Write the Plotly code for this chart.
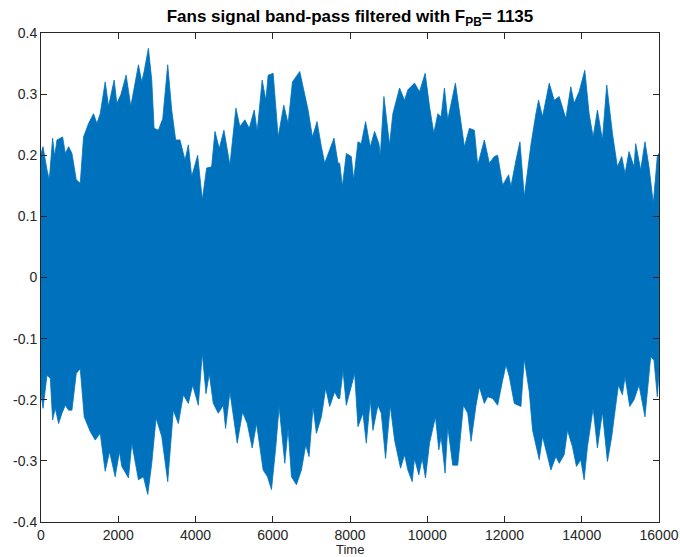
import plotly.graph_objects as go

# Upper envelope of the band-pass filtered signal (time sample, amplitude)
upper_time = [0, 52, 155, 215, 301, 353, 413, 560, 629, 715, 801, 913, 1016, 1102, 1231, 1361,
              1447, 1533, 1662, 1748, 1894, 1963, 2067, 2204, 2325, 2523, 2609, 2669, 2781, 2867,
              2928, 3040, 3152, 3281, 3384, 3487, 3599, 3729, 3815, 3901, 4056, 4176, 4288, 4417,
              4504, 4615, 4736, 4891, 5046, 5149, 5279, 5391, 5520, 5597, 5726, 5821, 5881, 6010,
              6140, 6286, 6398, 6510, 6699, 6803, 6915, 7027, 7147, 7259, 7345, 7474, 7586, 7690,
              7733, 7802, 7905, 8034, 8094, 8206, 8292, 8404, 8525, 8637, 8749, 8783, 8878, 9024,
              9110, 9283, 9412, 9498, 9670, 9799, 9946, 10058, 10170, 10273, 10359, 10445, 10531,
              10729, 10833, 10962, 11091, 11220, 11306, 11392, 11478, 11608, 11737, 11823, 11952,
              12107, 12167, 12297, 12400, 12512, 12684, 12813, 12882, 12985, 13158, 13287, 13416,
              13588, 13717, 13803, 13932, 14079, 14191, 14294, 14406, 14535, 14647, 14794, 14923,
              15035, 15121, 15224, 15354, 15397, 15526, 15637, 15741, 15853, 15956, 16000]
upper_value = [0.203, 0.214, 0.176, 0.160, 0.228, 0.198, 0.225, 0.230, 0.203, 0.214, 0.203, 0.160,
               0.154, 0.230, 0.252, 0.268, 0.252, 0.268, 0.320, 0.280, 0.323, 0.285, 0.299, 0.331,
               0.280, 0.348, 0.320, 0.337, 0.375, 0.323, 0.244, 0.241, 0.260, 0.348, 0.274, 0.225,
               0.225, 0.192, 0.217, 0.165, 0.200, 0.127, 0.179, 0.181, 0.239, 0.211, 0.241, 0.184,
               0.277, 0.247, 0.258, 0.244, 0.274, 0.239, 0.323, 0.290, 0.331, 0.334, 0.230, 0.282,
               0.252, 0.320, 0.337, 0.304, 0.274, 0.230, 0.255, 0.214, 0.187, 0.209, 0.228, 0.187,
               0.187, 0.149, 0.203, 0.198, 0.160, 0.222, 0.219, 0.255, 0.214, 0.239, 0.219, 0.198,
               0.296, 0.217, 0.268, 0.310, 0.290, 0.307, 0.318, 0.304, 0.334, 0.280, 0.236, 0.268,
               0.263, 0.310, 0.258, 0.318, 0.274, 0.214, 0.244, 0.241, 0.184, 0.206, 0.225, 0.187,
               0.198, 0.200, 0.151, 0.168, 0.149, 0.192, 0.222, 0.132, 0.217, 0.268, 0.290, 0.263,
               0.318, 0.290, 0.296, 0.260, 0.312, 0.285, 0.304, 0.339, 0.268, 0.230, 0.274, 0.225,
               0.315, 0.236, 0.181, 0.198, 0.170, 0.206, 0.181, 0.219, 0.176, 0.222, 0.181, 0.121,
               0.198, 0.203]

# Lower envelope of the band-pass filtered signal (time sample, amplitude)
lower_time = [0, 52, 155, 241, 301, 370, 456, 543, 629, 715, 801, 913, 1016, 1119, 1274, 1404,
              1533, 1662, 1774, 1920, 2032, 2092, 2265, 2351, 2523, 2652, 2764, 2867, 2979, 3126,
              3281, 3427, 3556, 3686, 3815, 3927, 4073, 4176, 4271, 4357, 4460, 4590, 4719, 4779,
              4891, 5080, 5218, 5339, 5468, 5580, 5752, 5864, 5967, 6079, 6165, 6312, 6398, 6484,
              6613, 6742, 6854, 6940, 7044, 7130, 7259, 7371, 7474, 7604, 7690, 7733, 7819, 7905,
              8034, 8120, 8206, 8335, 8422, 8525, 8594, 8723, 8809, 8921, 9042, 9154, 9309, 9412,
              9498, 9610, 9670, 9782, 9868, 9954, 10058, 10213, 10299, 10359, 10462, 10531, 10660,
              10790, 10936, 11048, 11134, 11263, 11349, 11478, 11565, 11694, 11823, 11952, 12038,
              12124, 12254, 12426, 12512, 12641, 12727, 12899, 12985, 13115, 13201, 13330, 13416,
              13545, 13631, 13760, 13863, 13975, 14061, 14147, 14294, 14406, 14535, 14665, 14777,
              14837, 14949, 15052, 15121, 15242, 15354, 15483, 15637, 15784, 15870, 15956, 16000]
lower_value = [-0.190, -0.214, -0.160, -0.165, -0.233, -0.214, -0.239, -0.222, -0.209, -0.217,
               -0.217, -0.157, -0.149, -0.228, -0.252, -0.266, -0.255, -0.317, -0.285, -0.326,
               -0.285, -0.309, -0.328, -0.271, -0.331, -0.326, -0.355, -0.304, -0.230, -0.260,
               -0.334, -0.217, -0.239, -0.192, -0.206, -0.176, -0.209, -0.124, -0.190, -0.157,
               -0.206, -0.222, -0.209, -0.247, -0.187, -0.271, -0.220, -0.239, -0.279, -0.239,
               -0.315, -0.326, -0.347, -0.277, -0.211, -0.304, -0.247, -0.326, -0.339, -0.315,
               -0.274, -0.293, -0.211, -0.255, -0.228, -0.181, -0.211, -0.187, -0.198, -0.198,
               -0.152, -0.209, -0.179, -0.157, -0.244, -0.222, -0.271, -0.200, -0.250, -0.209,
               -0.222, -0.296, -0.209, -0.266, -0.312, -0.290, -0.315, -0.334, -0.296, -0.323,
               -0.296, -0.328, -0.271, -0.228, -0.282, -0.260, -0.320, -0.244, -0.307, -0.307,
               -0.209, -0.222, -0.268, -0.209, -0.179, -0.206, -0.195, -0.198, -0.209, -0.168,
               -0.143, -0.162, -0.206, -0.211, -0.133, -0.187, -0.250, -0.298, -0.260, -0.293,
               -0.315, -0.293, -0.304, -0.290, -0.250, -0.277, -0.309, -0.298, -0.331, -0.277,
               -0.214, -0.279, -0.220, -0.301, -0.260, -0.230, -0.176, -0.192, -0.162, -0.211,
               -0.200, -0.176, -0.228, -0.130, -0.135, -0.195, -0.157]

x_ticks = [0, 2000, 4000, 6000, 8000, 10000, 12000, 14000, 16000]
x_tick_labels = ["0", "2000", "4000", "6000", "8000", "10000", "12000", "14000", "16000"]
y_ticks = [-0.4, -0.3, -0.2, -0.1, 0, 0.1, 0.2, 0.3, 0.4]
y_tick_labels = ["-0.4", "-0.3", "-0.2", "-0.1", "0", "0.1", "0.2", "0.3", "0.4"]

SIGNAL_BLUE = "#0072BD"
AXIS_GREY = "#262626"
FONT = "Liberation Sans, Arial, Helvetica, sans-serif"

# Closed outline: upper envelope forward, lower envelope backward
band_x = upper_time + lower_time[::-1]
band_y = upper_value + lower_value[::-1]

fig = go.Figure()
fig.add_trace(go.Scatter(
    x=band_x, y=band_y, mode="lines", fill="toself",
    fillcolor=SIGNAL_BLUE, line=dict(color=SIGNAL_BLUE, width=0.8),
    hoverinfo="skip", showlegend=False,
))

axis_common = dict(
    showgrid=False, zeroline=False, showline=True, linecolor=AXIS_GREY, linewidth=1,
    mirror="ticks", ticks="inside", ticklen=6, tickcolor=AXIS_GREY, tickwidth=1,
    tickfont=dict(family=FONT, size=14, color=AXIS_GREY), automargin=False,
)

fig.update_layout(
    width=680, height=557,
    margin=dict(l=41, r=21, t=33, b=35),
    paper_bgcolor="white", plot_bgcolor="white",
    title=dict(
        text="<b>Fans signal band-pass filtered with F<sub>PB</sub>= 1135</b>",
        font=dict(family=FONT, size=17, color="black"),
        x=0.5, xref="paper", xanchor="center",
        y=1 - 16 / 557, yref="container", yanchor="middle",
    ),
    xaxis=dict(range=[0, 16000], tickvals=x_ticks, ticktext=x_tick_labels, **axis_common),
    yaxis=dict(range=[-0.4, 0.4], tickvals=y_ticks, ticktext=y_tick_labels, **axis_common),
    annotations=[dict(
        text="Time", xref="paper", yref="paper", x=0.5, y=0,
        xanchor="center", yanchor="top", yshift=-19, showarrow=False, borderpad=0,
        font=dict(family=FONT, size=13, color=AXIS_GREY),
    )],
)

fig.write_html("out.html")
